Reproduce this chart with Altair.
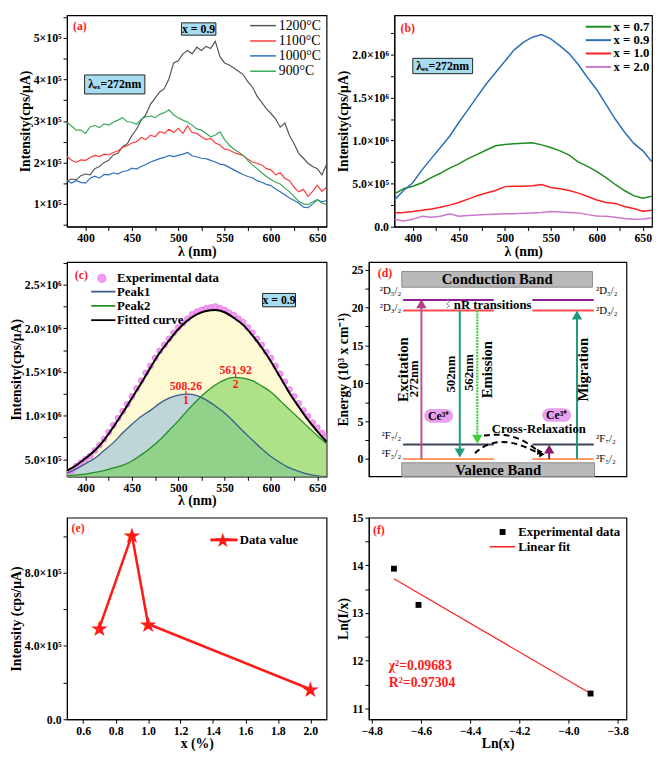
import altair as alt
import pandas as pd

FONT = "Liberation Serif"
RED = "#ff1a1a"

# ---------------- (a) temperature series (units of 1e5) ----------------
lam_a = list(range(380, 661, 5))
a_1200 = [1.55,1.60,1.58,1.68,1.72,1.70,1.85,1.90,2.00,2.05,2.18,2.22,2.38,2.45,2.65,2.80,3.02,3.15,3.40,3.55,
          3.70,3.78,4.02,4.40,4.45,4.62,4.70,4.62,4.78,4.70,4.80,4.75,4.92,4.55,4.40,4.35,4.28,4.20,4.12,3.95,
          3.82,3.60,3.45,3.30,3.18,3.05,2.85,2.95,2.65,2.45,2.22,2.10,1.98,1.90,1.85,1.70,1.95]
a_1100 = [2.15,2.05,2.00,2.06,2.05,2.12,2.17,2.14,2.20,2.18,2.24,2.28,2.36,2.40,2.47,2.50,2.60,2.55,2.66,2.62,
          2.74,2.70,2.80,2.72,2.82,2.70,2.88,2.72,2.70,2.62,2.55,2.58,2.47,2.42,2.32,2.30,2.24,2.20,2.17,2.08,
          2.01,1.98,1.94,1.85,1.82,1.70,1.75,1.62,1.56,1.40,1.29,1.35,1.18,1.30,1.45,1.30,1.40]
a_1000 = [1.56,1.50,1.56,1.52,1.50,1.62,1.67,1.62,1.71,1.70,1.75,1.72,1.78,1.80,1.86,1.84,1.90,1.95,2.01,2.05,
          2.09,2.12,2.17,2.14,2.17,2.20,2.24,2.16,2.13,2.10,2.09,2.05,2.01,1.96,1.94,1.88,1.82,1.76,1.71,1.66,
          1.63,1.56,1.52,1.47,1.44,1.36,1.29,1.22,1.14,1.08,1.02,0.92,0.91,1.00,1.10,1.05,1.08]
a_900 = [2.97,2.88,2.78,2.78,2.70,2.86,2.89,2.84,2.93,2.90,2.97,3.02,3.08,2.98,2.97,2.92,3.04,3.10,3.12,3.08,
         3.16,3.20,3.27,3.15,3.08,3.02,2.97,2.90,2.81,2.78,2.70,2.62,2.66,2.74,2.55,2.42,2.32,2.25,2.17,2.05,
         1.94,1.85,1.75,1.66,1.59,1.52,1.48,1.38,1.29,1.18,1.06,1.00,0.98,1.05,1.10,1.02,0.98]
series_a = ["1200°C", "1100°C", "1000°C", "900°C"]
colors_a = ["#555555", "#ff3b3b", "#2e70bd", "#3aa85a"]

# ---------------- (b) concentration series (units of 1e6) ----------------
lam_b = list(range(380, 661, 10))
b_07 = [.38,.44,.47,.51,.57,.62,.68,.73,.79,.84,.89,.94,.955,.963,.97,.975,.95,.92,.88,.83,.75,.70,.64,.57,.49,.42,.36,.33,.355]
b_09 = [.31,.42,.51,.66,.79,.92,1.05,1.21,1.36,1.51,1.66,1.79,1.92,2.05,2.14,2.20,2.23,2.18,2.10,2.01,1.88,1.73,1.59,1.42,1.25,1.10,.97,.88,.75]
b_10 = [.160,.165,.175,.19,.205,.225,.25,.28,.32,.36,.39,.42,.465,.47,.47,.475,.49,.455,.44,.42,.39,.35,.31,.28,.27,.235,.21,.18,.19]
b_20 = [.085,.067,.085,.12,.11,.12,.15,.12,.13,.135,.14,.145,.15,.15,.155,.16,.165,.175,.17,.165,.16,.14,.125,.12,.11,.095,.085,.09,.10]
series_b = ["x = 0.7", "x = 0.9", "x = 1.0", "x = 2.0"]
colors_b = ["#1e8c1e", "#2c6fb5", "#ff2020", "#cc77cc"]

# ---------------- (c) Gaussian fit (units of 1e6) ----------------
lam_c = list(range(380, 661, 10))
c_peak1 = [.34,.39,.45,.51,.60,.69,.80,.90,.99,1.06,1.14,1.20,1.235,1.245,1.23,1.18,1.11,1.03,.93,.82,.72,.62,.53,.46,.40,.36,.33,.31,.30]
c_peak2 = [.31,.32,.33,.35,.37,.40,.43,.48,.55,.63,.72,.83,.94,1.06,1.17,1.27,1.35,1.41,1.437,1.43,1.40,1.34,1.27,1.17,1.07,.97,.87,.77,.68]
c_fit = [.37,.43,.51,.60,.72,.87,1.03,1.20,1.37,1.55,1.72,1.86,1.99,2.09,2.16,2.20,2.21,2.185,2.12,2.04,1.92,1.78,1.62,1.44,1.26,1.10,.95,.82,.70]
lam_c_exp = list(range(380, 661, 5))
c_exp = [.35,.37,.42,.46,.50,.54,.60,.66,.73,.81,.89,.97,1.05,1.13,1.22,1.31,1.40,1.49,1.57,1.66,1.74,1.81,1.88,1.95,
         2.01,2.06,2.11,2.16,2.19,2.21,2.23,2.24,2.25,2.23,2.21,2.18,2.15,2.11,2.07,2.01,1.95,1.88,1.81,1.73,1.66,
         1.57,1.48,1.39,1.30,1.22,1.14,1.06,.99,.92,.86,.80,.76]
series_c = ["Peak1", "Peak2", "Fitted curve"]
colors_c = ["#3d5a8c", "#2a8c2a", "#000000"]
peak_pos = [508.26, 561.92]
peak_val = [1.245, 1.437]
peak_lbl = ["508.26", "561.92"]
peak_num = ["1", "2"]

# ---------------- (d) energy levels ----------------
level_names = ["²D₅/₂", "²D₃/₂", "²F₇/₂", "²F₅/₂"]
level_energy = [21.0, 19.6, 1.9, 0.0]
level_colors = ["#8e1c8e", "#ff4a4a", "#3c4656", "#ff9966"]

# ---------------- (e) intensity vs x (units of 1e5) ----------------
x_e = [0.7, 0.9, 1.0, 2.0]
y_e = [5.0, 10.05, 5.2, 1.64]

# ---------------- (f) ln-ln fit ----------------
x_f = [-4.71, -4.61, -3.91]
y_f = [13.93, 13.17, 11.31]
fit_x = [-4.71, -3.91]
fit_y = [13.72, 11.31]
stats_f = ["χ²=0.09683", "R²=0.97304"]

W_L, W_R = 264, 262
H1, H2, H3 = 215, 218, 205


def tx(df, **kw):
    base = dict(font=FONT, fontWeight="bold", fontSize=13, baseline="middle")
    base.update(kw)
    return alt.Chart(df).mark_text(**base)


def legend_rules(X, Y, x1, x2, ys, colors, width):
    df = pd.DataFrame({"x": [x1] * len(ys), "x2": [x2] * len(ys), "y": ys, "c": colors})
    return alt.Chart(df).mark_rule(strokeWidth=width).encode(x=X, x2="x2:Q", y=Y, color=alt.Color("c:N", scale=None))


def legend_texts(X, Y, x, ys, labels, **kw):
    df = pd.DataFrame({"x": [x] * len(ys), "y": ys, "t": labels})
    return tx(df, align="left", **kw).encode(x=X, y=Y, text="t:N")


# ====================== (a) ======================
xa = alt.X("x:Q", scale=alt.Scale(domain=[380, 660], nice=False, zero=False),
           axis=alt.Axis(values=list(range(400, 651, 25)),
                         labelExpr="datum.value % 50 == 0 ? datum.value : ''", title="λ (nm)"))
ya = alt.Y("y:Q", scale=alt.Scale(domain=[0.45, 5.55], nice=False, zero=False),
           axis=alt.Axis(values=[i / 2 for i in range(1, 12)],
                         labelExpr="datum.value % 1 == 0 ? datum.value + '×10⁵' : ''",
                         title="Intensity(cps/μA)"))
rows = []
for s, c, vals in zip(series_a, colors_a, [a_1200, a_1100, a_1000, a_900]):
    for l, v in zip(lam_a, vals):
        rows.append({"x": l, "y": v, "s": s, "c": c})
lines_a = alt.Chart(pd.DataFrame(rows)).mark_line(strokeWidth=1.2, clip=True).encode(
    x=xa, y=ya, detail="s:N", color=alt.Color("c:N", scale=None))
leg_ya = [5.30, 4.93, 4.57, 4.20]
leg_a1 = legend_rules(xa, ya, 577.6, 605.4, leg_ya, colors_a, 1.5)
leg_a2 = legend_texts(xa, ya, 608.5, leg_ya, series_a, fontWeight="normal", fontSize=14)
box_a = pd.DataFrame({"x": [503.5, 399.0], "x2": [540.6, 464.0], "y": [5.367, 4.11], "y2": [5.07, 3.652]})
boxes_a = alt.Chart(box_a).mark_rect(fill="#a8dcf0", stroke="#222", strokeWidth=1).encode(
    x=xa, x2="x2:Q", y=ya, y2="y2:Q")
t_a = tx(pd.DataFrame({"x": [522, 431.5], "y": [5.22, 3.88], "t": ["x = 0.9", "λₑₓ=272nm"]}), fontSize=12).encode(x=xa, y=ya, text="t:N")
lab_a = tx(pd.DataFrame({"x": [386.5], "y": [5.28], "t": ["(a)"]}), color=RED, align="left", fontSize=12).encode(x=xa, y=ya, text="t:N")
pa = alt.layer(lines_a, leg_a1, leg_a2, boxes_a, t_a, lab_a).properties(width=W_L, height=H1)

# ====================== (b) ======================
sci_expr = ("datum.value == 0 ? '0.0' : (datum.value*2) % 1 == 0 ? (datum.value >= 1 ? "
            "format(datum.value, '.1f') + '×10⁶' : format(datum.value*10, '.1f') + '×10⁵') : ''")
xb = alt.X("x:Q", scale=alt.Scale(domain=[380, 660], nice=False, zero=False),
           axis=alt.Axis(values=list(range(400, 651, 25)),
                         labelExpr="datum.value % 50 == 0 ? datum.value : ''", title="λ (nm)"))
yb = alt.Y("y:Q", scale=alt.Scale(domain=[0, 2.455], nice=False, zero=False),
           axis=alt.Axis(values=[i * 0.25 for i in range(0, 10)], labelExpr=sci_expr,
                         title="Intensity(cps/μA)"))
rows = []
for s, c, vals in zip(series_b, colors_b, [b_07, b_09, b_10, b_20]):
    for l, v in zip(lam_b, vals):
        rows.append({"x": l, "y": v, "s": s, "c": c})
lines_b = alt.Chart(pd.DataFrame(rows)).mark_line(strokeWidth=1.5, clip=True).encode(
    x=xb, y=yb, detail="s:N", color=alt.Color("c:N", scale=None))
leg_yb = [2.322, 2.166, 2.011, 1.855]
leg_b1 = legend_rules(xb, yb, 587.9, 615.5, leg_yb, colors_b, 2)
leg_b2 = legend_texts(xb, yb, 618.0, leg_yb, series_b)
box_b = pd.DataFrame({"x": [400.0], "x2": [465.0], "y": [1.955], "y2": [1.777]})
boxes_b = alt.Chart(box_b).mark_rect(fill="#a8dcf0", stroke="#222", strokeWidth=1).encode(
    x=xb, x2="x2:Q", y=yb, y2="y2:Q")
t_b = tx(pd.DataFrame({"x": [432.5], "y": [1.866], "t": ["λₑₓ=272nm"]}), fontSize=12).encode(x=xb, y=yb, text="t:N")
lab_b = tx(pd.DataFrame({"x": [386.7], "y": [2.31], "t": ["(b)"]}), color=RED, align="left", fontSize=12).encode(x=xb, y=yb, text="t:N")
pb = alt.layer(lines_b, leg_b1, leg_b2, boxes_b, t_b, lab_b).properties(width=W_R, height=H1)

# ====================== (c) ======================
xc = alt.X("x:Q", scale=alt.Scale(domain=[380, 660], nice=False, zero=False),
           axis=alt.Axis(values=list(range(400, 651, 25)),
                         labelExpr="datum.value % 50 == 0 ? datum.value : ''", title="λ (nm)"))
yc = alt.Y("y:Q", scale=alt.Scale(domain=[0.303, 2.76], nice=False, zero=False),
           axis=alt.Axis(values=[i * 0.25 for i in range(2, 12)], labelExpr=sci_expr,
                         title="Intensity(cps/μA)"))
df_fit = pd.DataFrame({"x": lam_c, "y": c_fit})
df_p1 = pd.DataFrame({"x": lam_c, "y": c_peak1})
df_p2 = pd.DataFrame({"x": lam_c, "y": c_peak2})
df_exp = pd.DataFrame({"x": lam_c_exp, "y": c_exp})
fill_fit = alt.Chart(df_fit).mark_area(clip=True, color="#fdf8c8", opacity=0.8, interpolate="monotone").encode(x=xc, y=yc)
fill_p1 = alt.Chart(df_p1).mark_area(clip=True, color="#9cc3d8", opacity=0.65, interpolate="monotone").encode(x=xc, y=yc)
fill_p2 = alt.Chart(df_p2).mark_area(clip=True, color="#6cd04a", opacity=0.55, interpolate="monotone").encode(x=xc, y=yc)
pts_c = alt.Chart(df_exp).mark_circle(size=36, opacity=1, color="#f39cf3", stroke="#e060e0", strokeWidth=0.6, clip=True).encode(x=xc, y=yc)
ln_p1 = alt.Chart(df_p1).mark_line(clip=True, interpolate="monotone", color=colors_c[0], strokeWidth=1.3).encode(x=xc, y=yc)
ln_p2 = alt.Chart(df_p2).mark_line(clip=True, interpolate="monotone", color=colors_c[1], strokeWidth=1.3).encode(x=xc, y=yc)
ln_fit = alt.Chart(df_fit).mark_line(clip=True, interpolate="monotone", color=colors_c[2], strokeWidth=2).encode(x=xc, y=yc)
leg_c_pt = alt.Chart(pd.DataFrame({"x": [417.6], "y": [2.574]})).mark_circle(
    size=70, opacity=1, color="#f39cf3", stroke="#e060e0", strokeWidth=0.6).encode(x=xc, y=yc)
leg_yc = [2.421, 2.258, 2.094]
leg_c1 = legend_rules(xc, yc, 406.1, 432.2, leg_yc, colors_c, 1.8)
leg_c2 = legend_texts(xc, yc, 434.0, [2.574] + leg_yc, ["Experimental data"] + series_c)
df_pk = pd.DataFrame({"x": peak_pos, "y": [v + 0.09 for v in peak_val], "t": peak_lbl})
df_pk_n = pd.DataFrame({"x": peak_pos, "y": [v - 0.07 for v in peak_val], "t": peak_num})
df_pk_r = pd.DataFrame({"x": peak_pos, "y": [v - 0.01 for v in peak_val], "y2": [v + 0.04 for v in peak_val]})
pk_txt = tx(df_pk, color=RED, fontSize=12).encode(x=xc, y=yc, text="t:N")
pk_num = tx(df_pk_n, color=RED, fontSize=12).encode(x=xc, y=yc, text="t:N")
pk_tick = alt.Chart(df_pk_r).mark_rule(color=RED, strokeWidth=1.2).encode(x=xc, y=yc, y2="y2:Q")
box_c = pd.DataFrame({"x": [591.0], "x2": [626.5], "y": [2.40], "y2": [2.247]})
boxes_c = alt.Chart(box_c).mark_rect(fill="#a8dcf0", stroke="#222", strokeWidth=1).encode(x=xc, x2="x2:Q", y=yc, y2="y2:Q")
t_c = tx(pd.DataFrame({"x": [608.7], "y": [2.323], "t": ["x = 0.9"]}), fontSize=12).encode(x=xc, y=yc, text="t:N")
lab_c = tx(pd.DataFrame({"x": [388.4], "y": [2.615], "t": ["(c)"]}), color=RED, align="left", fontSize=12).encode(x=xc, y=yc, text="t:N")
pc = alt.layer(fill_fit, fill_p1, fill_p2, pts_c, ln_p1, ln_p2, ln_fit, leg_c_pt, leg_c1, leg_c2,
               pk_tick, pk_txt, pk_num, boxes_c, t_c, lab_c).properties(width=W_L, height=H2)

# ====================== (d) ======================
xd = alt.X("x:Q", scale=alt.Scale(domain=[0, 100], nice=False, zero=False), axis=None)
yd = alt.Y("y:Q", scale=alt.Scale(domain=[-2.3, 26], nice=False, zero=False),
           axis=alt.Axis(values=[i * 2.5 for i in range(0, 11)],
                         labelExpr="datum.value % 5 == 0 ? datum.value : ''",
                         title="Energy (10³ x cm⁻¹)"))
bands = pd.DataFrame({"x": [12.8, 12.8], "x2": [86.8, 87.6], "y": [24.76, -0.5], "y2": [22.68, -2.3]})
band_rect = alt.Chart(bands).mark_rect(fill="#b9b9b9", stroke="#8a8a8a", strokeWidth=1).encode(x=xd, x2="x2:Q", y=yd, y2="y2:Q")
band_txt = tx(pd.DataFrame({"x": [49.8, 50.2], "y": [23.7, -1.4], "t": ["Conduction Band", "Valence Band"]}), fontSize=15).encode(x=xd, y=yd, text="t:N")
lv_rows = []
for n, e, c in zip(level_names, level_energy, level_colors):
    lv_rows.append({"x": 13.3, "x2": 48.5, "y": e, "c": c})
    lv_rows.append({"x": 63.5, "x2": 87.3, "y": e, "c": c})
levels = alt.Chart(pd.DataFrame(lv_rows)).mark_rule(strokeWidth=2).encode(
    x=xd, x2="x2:Q", y=yd, color=alt.Color("c:N", scale=None))
lbl_left = tx(pd.DataFrame({"x": [12.6] * 4, "y": [22.2, 19.9, 3.0, 0.6], "t": level_names}),
              align="right", fontWeight="normal", fontSize=11).encode(x=xd, y=yd, text="t:N")
lbl_right = tx(pd.DataFrame({"x": [88.2] * 4, "y": [22.2, 19.5, 2.6, 0.0], "t": level_names}),
               align="left", fontWeight="normal", fontSize=11).encode(x=xd, y=yd, text="t:N")
arrows = pd.DataFrame({"x": [20.4, 35.3, 70.0, 80.8], "y": [0.0, 19.6, 0.0, 0.0], "y2": [20.3, 1.0, 1.0, 18.8],
                       "c": ["#c0508c", "#1f9a7a", "#8b1a6b", "#1f9a7a"]})
shafts = alt.Chart(arrows).mark_rule(strokeWidth=2).encode(x=xd, y=yd, y2="y2:Q", color=alt.Color("c:N", scale=None))
dotted = alt.Chart(pd.DataFrame({"x": [42.1], "y": [19.6], "y2": [2.9]})).mark_rule(
    color="#3ccc3c", strokeWidth=2.2, strokeDash=[2, 1]).encode(x=xd, y=yd, y2="y2:Q")
heads_up = pd.DataFrame({"x": [20.4, 70.0, 80.8], "y": [20.5, 1.3, 19.0], "c": ["#b0408c", "#8b1a6b", "#1f9a7a"]})
heads_dn = pd.DataFrame({"x": [35.3, 42.1], "y": [0.8, 2.6], "c": ["#1f9a7a", "#3ccc3c"]})
hu = alt.Chart(heads_up).mark_point(shape="triangle-up", filled=True, size=110, opacity=1).encode(x=xd, y=yd, color=alt.Color("c:N", scale=None))
hd = alt.Chart(heads_dn).mark_point(shape="triangle-down", filled=True, size=110, opacity=1).encode(x=xd, y=yd, color=alt.Color("c:N", scale=None))
rot_t1 = tx(pd.DataFrame({"x": [13.2, 45.9, 83.3], "y": [11.8, 11.8, 11.8], "t": ["Excitation", "Emission", "Migration"]}),
            angle=270, fontSize=15).encode(x=xd, y=yd, text="t:N")
rot_t2 = tx(pd.DataFrame({"x": [17.7, 32.0, 39.0], "y": [10.6, 11.2, 11.4], "t": ["272nm", "502nm", "562nm"]}),
            angle=270, fontSize=13).encode(x=xd, y=yd, text="t:N")
ce = pd.DataFrame({"x": [27.1, 72.9], "y": [5.7, 5.8], "t": ["Ce³⁺", "Ce³⁺"]})
ce_box = pd.DataFrame({"x": [21.5, 67.3], "x2": [32.7, 78.5], "y": [4.8, 4.9], "y2": [6.6, 6.7]})
ce_pts = alt.Chart(ce_box).mark_rect(fill="#e8a0f0", cornerRadius=7).encode(x=xd, x2="x2:Q", y=yd, y2="y2:Q")
ce_txt = tx(ce, fontSize=12).encode(x=xd, y=yd, text="t:N")
nr_txt = tx(pd.DataFrame({"x": [33.0], "y": [20.3], "t": ["nR transitions"]}), align="left").encode(x=xd, y=yd, text="t:N")
cr_txt = tx(pd.DataFrame({"x": [66.0], "y": [4.0], "t": ["Cross-Relaxation"]})).encode(x=xd, y=yd, text="t:N")
curves = pd.DataFrame({"x": [44.7, 52.3, 59.8, 66.0, 41.2, 44.7, 51.0, 58.5, 66.7],
                       "y": [3.09, 3.33, 2.6, 0.98, 0.77, 1.79, 2.4, 2.0, 0.65],
                       "g": ["1", "1", "1", "1", "2", "2", "2", "2", "2"], "o": [0, 1, 2, 3, 0, 1, 2, 3, 4]})
curve_l = alt.Chart(curves).mark_line(color="black", strokeWidth=2, strokeDash=[6, 4], interpolate="basis").encode(
    x=xd, y=yd, detail="g:N", order="o:Q")
chead_pts = alt.Chart(pd.DataFrame({"x": [66.4, 67.2], "y": [0.95, 0.62]})).mark_point(
    shape="triangle-right", filled=True, size=40, color="black", opacity=1).encode(x=xd, y=yd)
squig = pd.DataFrame({"x": [30.2, 31.3, 30.2, 31.3, 30.2], "y": [19.9, 20.2, 20.5, 20.8, 21.1], "o": [0, 1, 2, 3, 4]})
squig_l = alt.Chart(squig).mark_line(color="#9a7a9a", strokeWidth=1).encode(x=xd, y=yd, order="o:Q")
lab_d = tx(pd.DataFrame({"x": [3.5], "y": [24.5], "t": ["(d)"]}), color=RED, align="left", fontSize=12).encode(x=xd, y=yd, text="t:N")
pdg = alt.layer(band_rect, band_txt, levels, lbl_left, lbl_right, shafts, dotted, hu, hd, rot_t1, rot_t2,
                ce_pts, ce_txt, nr_txt, cr_txt, curve_l, chead_pts, squig_l, lab_d).properties(width=W_R, height=H2)

# ====================== (e) ======================
xe = alt.X("x:Q", scale=alt.Scale(domain=[0.5, 2.1], nice=False, zero=False),
           axis=alt.Axis(values=[0.6, 0.8, 1.0, 1.2, 1.4, 1.6, 1.8, 2.0], format=".1f", title="x (%)"))
ye = alt.Y("y:Q", scale=alt.Scale(domain=[0, 11], nice=False, zero=False),
           axis=alt.Axis(values=[0, 2, 4, 6, 8, 10],
                         labelExpr="datum.value == 0 ? '0.0' : (datum.value % 4 == 0 ? format(datum.value, '.1f') + '×10⁵' : '')",
                         title="Intensity (cps/μA)"))
df_e = pd.DataFrame({"x": x_e, "y": y_e, "t": ["★"] * len(x_e)})
line_e = alt.Chart(df_e).mark_line(strokeWidth=2.6, color=RED).encode(x=xe, y=ye)
star_e = alt.Chart(df_e).mark_text(font="DejaVu Sans", fontSize=22, color=RED, baseline="middle", dy=1).encode(
    x=xe, y=ye, text="t:N")
leg_e1 = legend_rules(xe, ye, 1.384, 1.551, [9.79], [RED], 3)
leg_e_star = alt.Chart(pd.DataFrame({"x": [1.461], "y": [9.79], "t": ["★"]})).mark_text(
    font="DejaVu Sans", fontSize=20, color=RED, baseline="middle", dy=1).encode(x=xe, y=ye, text="t:N")
leg_e2 = legend_texts(xe, ye, 1.565, [9.79], ["Data value"])
lab_e = tx(pd.DataFrame({"x": [0.528], "y": [10.42], "t": ["(e)"]}), color=RED, align="left", fontSize=12).encode(x=xe, y=ye, text="t:N")
pe = alt.layer(line_e, star_e, leg_e1, leg_e_star, leg_e2, lab_e).properties(width=W_L, height=H3)

# ====================== (f) ======================
xf = alt.X("x:Q", scale=alt.Scale(domain=[-4.812, -3.764], nice=False, zero=False),
           axis=alt.Axis(values=[-4.8, -4.6, -4.4, -4.2, -4.0, -3.8], format=".1f", title="Ln(x)"))
yf = alt.Y("y:Q", scale=alt.Scale(domain=[10.77, 15], nice=False, zero=False),
           axis=alt.Axis(values=[11 + 0.5 * i for i in range(9)],
                         labelExpr="datum.value % 1 == 0 ? datum.value : ''", title="Ln(I/x)"))
df_f = pd.DataFrame({"x": x_f, "y": y_f})
df_fit_f = pd.DataFrame({"x": fit_x, "y": fit_y})
pts_f = alt.Chart(df_f).mark_point(shape="square", filled=True, size=36, opacity=1, color="black").encode(x=xf, y=yf)
line_f = alt.Chart(df_fit_f).mark_line(strokeWidth=1.2, color="#ff2020").encode(x=xf, y=yf)
leg_f_sq = alt.Chart(pd.DataFrame({"x": [-4.268], "y": [14.70]})).mark_point(
    shape="square", filled=True, size=36, opacity=1, color="black").encode(x=xf, y=yf)
leg_f1 = legend_rules(xf, yf, -4.321, -4.217, [14.39], ["#ff2020"], 1.5)
leg_f2 = legend_texts(xf, yf, -4.204, [14.70, 14.39], ["Experimental data", "Linear fit"])
st_f = tx(pd.DataFrame({"x": [-4.731, -4.731], "y": [11.88, 11.54], "t": stats_f}), color=RED, align="left", fontSize=14).encode(x=xf, y=yf, text="t:N")
lab_f = tx(pd.DataFrame({"x": [-4.795], "y": [14.75], "t": ["(f)"]}), color=RED, align="left", fontSize=12).encode(x=xf, y=yf, text="t:N")
pf = alt.layer(line_f, pts_f, leg_f_sq, leg_f1, leg_f2, st_f, lab_f).properties(width=W_R, height=H3)

row1 = alt.hconcat(pa, pb, spacing=8)
row2 = alt.hconcat(pc, pdg, spacing=8)
row3 = alt.hconcat(pe, pf, spacing=8)
chart = alt.vconcat(row1, row2, row3, spacing=2).properties(
    padding={"left": 0, "top": 0, "right": 0, "bottom": 0}
).configure_view(
    stroke="black", strokeWidth=1.2
).configure_axis(
    tickSize=4, tickWidth=1, tickColor="black", domainColor="black", labelPadding=2, titlePadding=1,
    labelFont=FONT, labelFontSize=12, labelFontWeight="bold", titleFont=FONT, titleFontSize=14,
    titleFontWeight="bold", grid=False, labelColor="black", titleColor="black"
)

chart.save("out.html", embed_options={"renderer": "svg", "actions": False})
